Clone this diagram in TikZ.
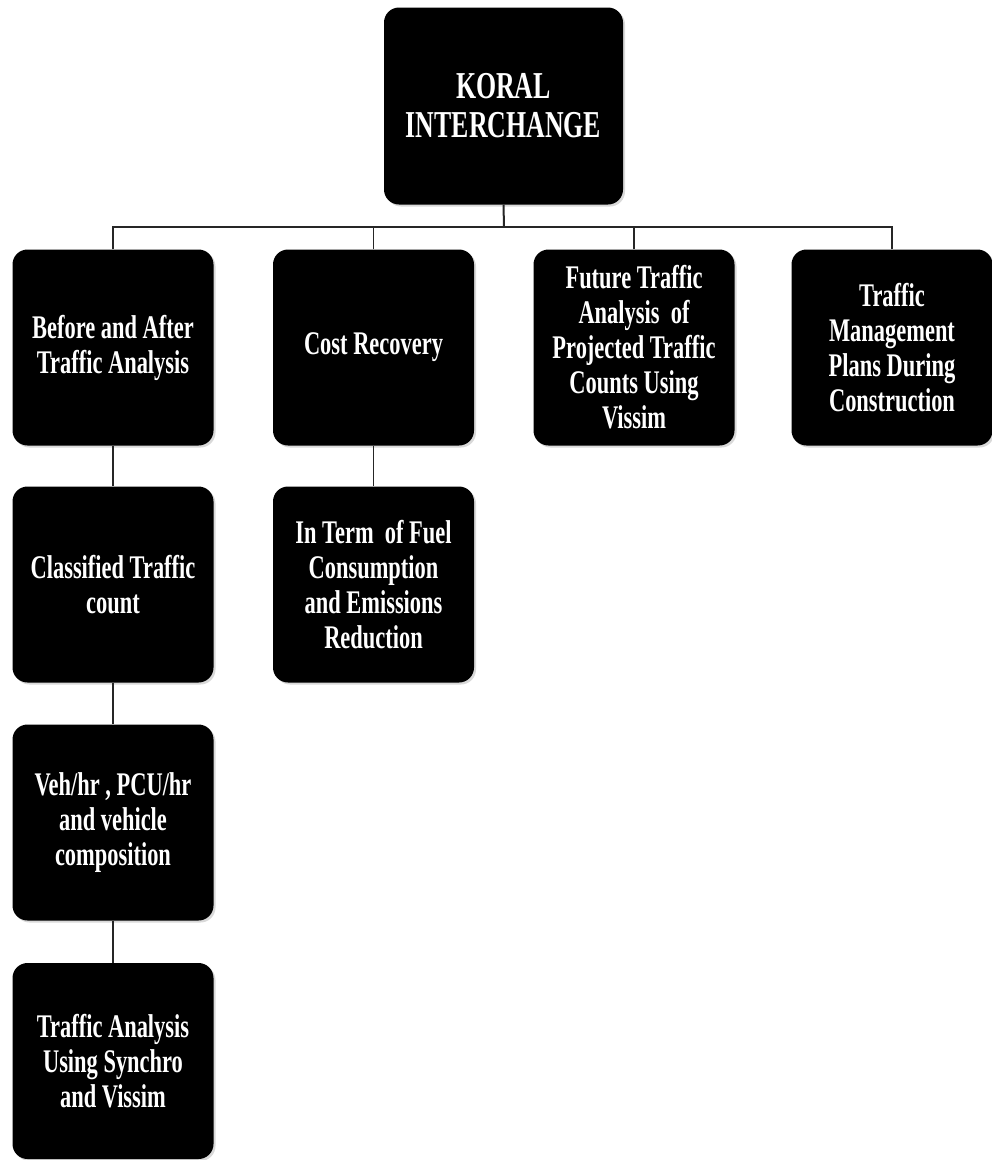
\documentclass[tikz,border=0pt]{standalone}
\usepackage{fontspec}
\newfontfamily\boxfont{Liberation Serif Bold}[FakeStretch=0.68]
\usetikzlibrary{shadows}
\tikzset{
  boxnode/.style={rounded corners=15pt, fill=black, text=white, minimum width=201pt, minimum height=196pt, inner sep=0pt, align=center,
    font=\boxfont\fontsize{33}{35}\selectfont,
    drop shadow={shadow xshift=2pt, shadow yshift=-2pt, opacity=0.3, fill=gray}},
  topnode/.style={boxnode, minimum width=239pt, minimum height=197pt, font=\boxfont\fontsize{38}{39}\selectfont},
  link/.style={draw=black!85, line width=1.2pt}
}
\begin{document}
\begin{tikzpicture}[x=1pt,y=-1pt]
\useasboundingbox (0,0) rectangle (992,1160);
\node[topnode] (top) at (503.5,106) {KORAL\\INTERCHANGE};
\node[boxnode] (a1) at (113,347.5) {Before and After\\Traffic Analysis};
\node[boxnode] (a2) at (373.5,347.5) {Cost Recovery};
\node[boxnode] (a3) at (634,347.5) {Future Traffic\\Analysis\ \ of\\Projected Traffic\\Counts Using\\Vissim};
\node[boxnode] (a4) at (892,347.5) {Traffic\\Management\\Plans During\\Construction};
\node[boxnode] (b1) at (113,584.5) {Classified Traffic\\count};
\node[boxnode] (b2) at (373.5,584.5) {In Term\ \ of Fuel\\Consumption\\and Emissions\\Reduction};
\node[boxnode] (c1) at (113,822.5) {Veh/hr\ , PCU/hr\\and vehicle\\composition};
\node[boxnode] (d1) at (113,1061) {Traffic Analysis\\Using Synchro\\and Vissim};
\coordinate (j) at (504,227);
\draw[link, line width=2pt] (top.south) -- (j);
\draw[link] (a1.north) |- (j);
\draw[link] (a2.north) |- (j);
\draw[link] (a3.north) |- (j);
\draw[link] (a4.north) |- (j);
\draw[link] (a1.south) -- (b1.north);
\draw[link] (b1.south) -- (c1.north);
\draw[link] (c1.south) -- (d1.north);
\draw[link] (a2.south) -- (b2.north);
\end{tikzpicture}
\end{document}
